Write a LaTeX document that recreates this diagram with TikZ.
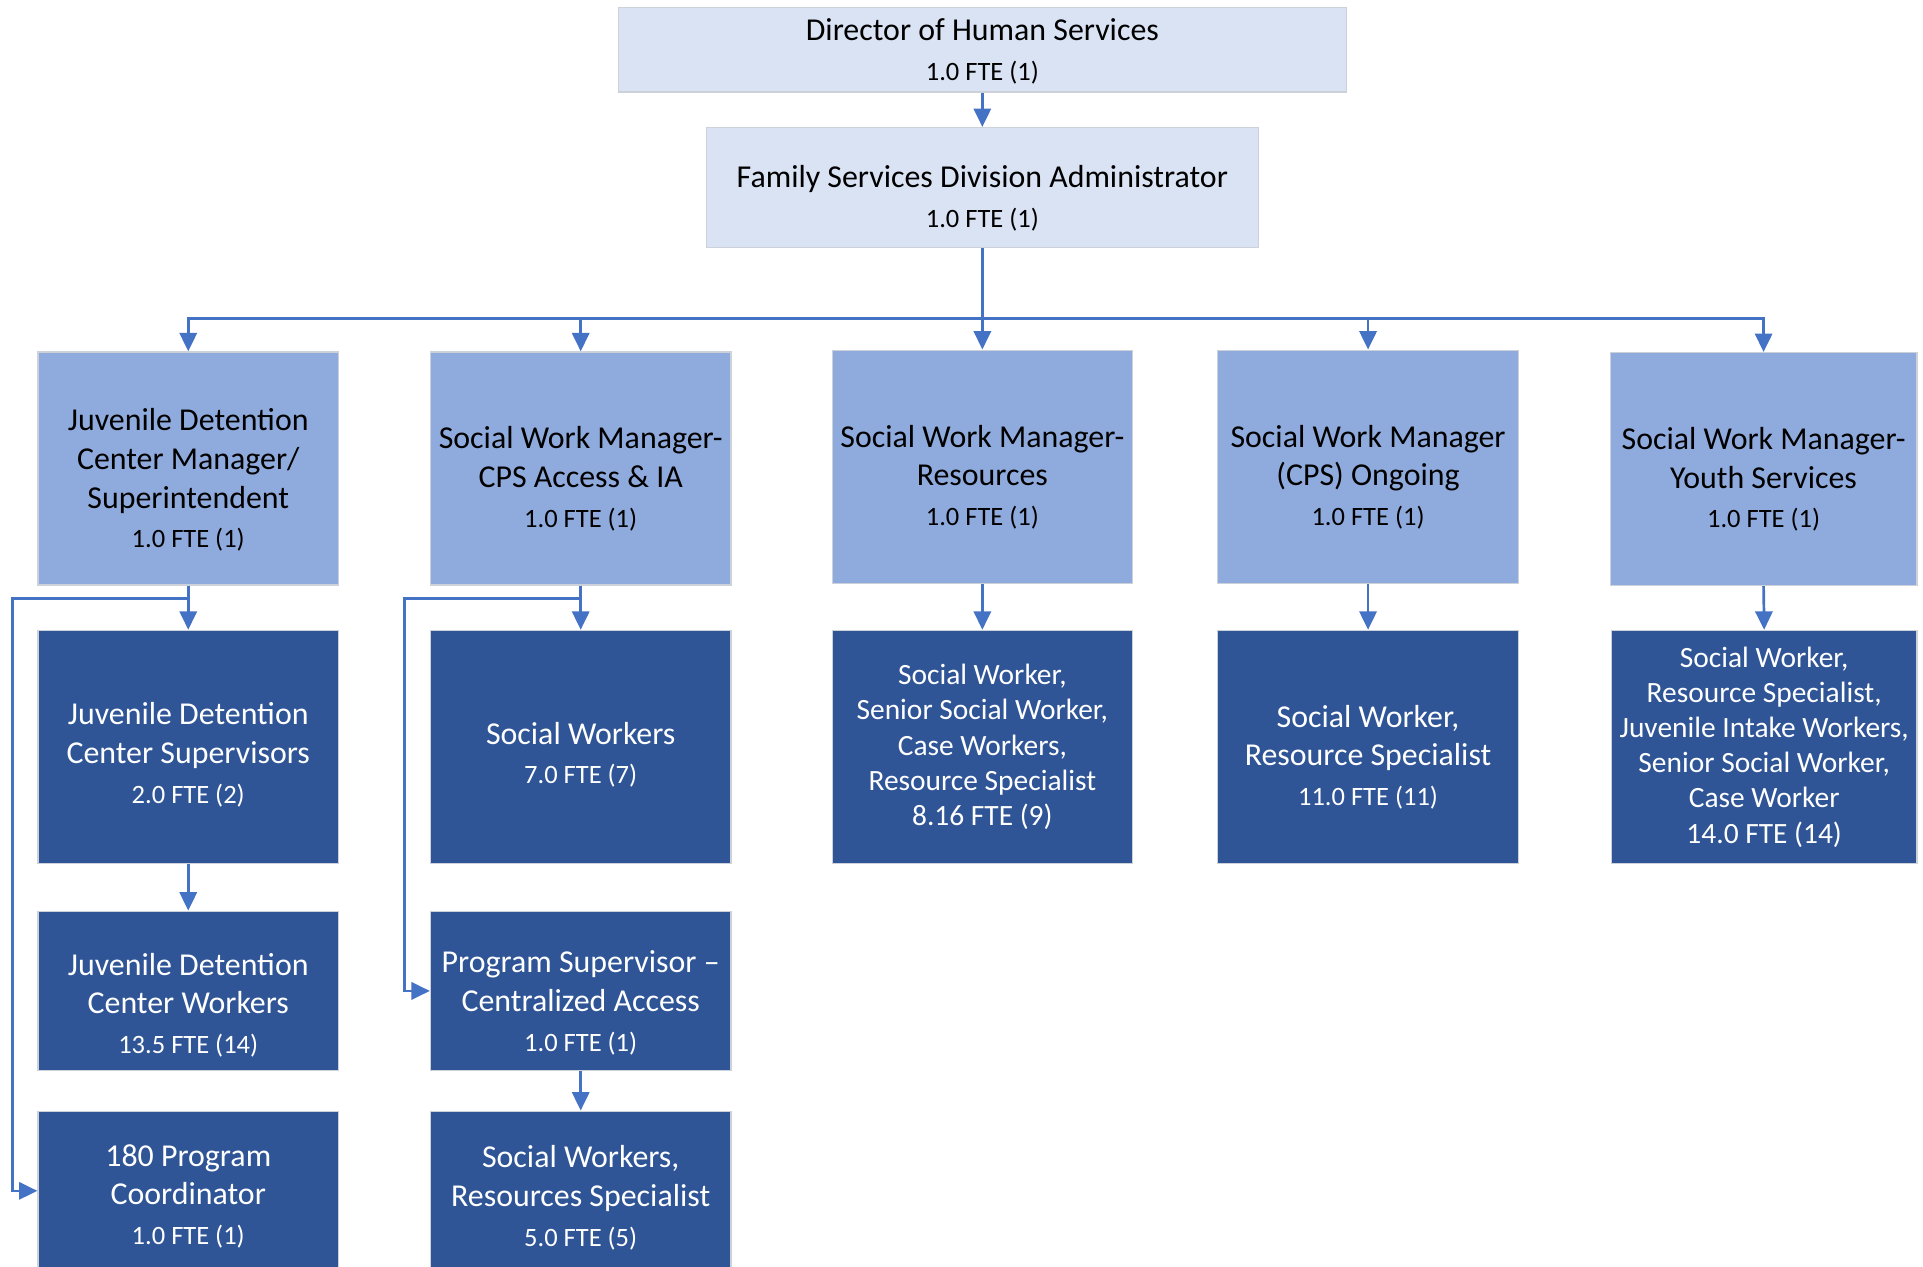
\documentclass[tikz,border=0pt]{standalone}
\usepackage{fontspec}
\setmainfont{Carlito}
\usetikzlibrary{arrows.meta}

\definecolor{linkblue}{HTML}{4472C4}
\definecolor{paleblue}{HTML}{DAE3F3}
\definecolor{midblue}{HTML}{8FAADC}
\definecolor{navy}{HTML}{2F5597}
\definecolor{edgegray}{HTML}{CDD2DA}

% smaller line for the head-count figures
\newcommand{\fte}[1]{{\fontsize{21.6}{26}\selectfont #1}}
% invisible strut that lowers a text block inside its box
\newcommand{\drop}[1]{\rule{0pt}{#1}}

\tikzset{
  unit/.style={draw=edgegray, line width=1pt, inner sep=0pt, align=center,
    font=\fontsize{26}{31.5}\selectfont},
  toplevel/.style={unit, fill=paleblue, text=black},
  manager/.style={unit, fill=midblue, text=black,
    minimum width=245pt, minimum height=190pt},
  staff/.style={unit, fill=navy, text=white, minimum width=245pt},
  dense/.style={font=\fontsize{24}{28.7}\selectfont},
  link/.style={draw=linkblue, line width=2.2pt,
    -{Triangle[length=15pt,width=14pt]}},
}

\begin{document}
\begin{tikzpicture}[x=1pt,y=-1pt]
\useasboundingbox (0,0) rectangle (1568,1033);

% top of the hierarchy
\node[toplevel, minimum width=594pt, minimum height=69pt] (dir) at (801,40.5)
  {\drop{21pt}Director of Human Services\\[1pt]\fte{1.0 FTE (1)}};
\node[toplevel, minimum width=450pt, minimum height=98pt] (fam) at (801,153)
  {\drop{35pt}Family Services Division Administrator\\[1pt]\fte{1.0 FTE (1)}};

% managers
\node[manager] (m1) at (153.5,382)
  {\drop{37pt}Juvenile Detention\\Center Manager/\\Superintendent\\[1pt]\fte{1.0 FTE (1)}};
\node[manager] (m2) at (473.5,382)
  {\drop{35pt}Social Work Manager-\\CPS Access \& IA\\[1pt]\fte{1.0 FTE (1)}};
\node[manager] (m3) at (801,380.5)
  {\drop{35pt}Social Work Manager-\\Resources\\[1pt]\fte{1.0 FTE (1)}};
\node[manager] (m4) at (1115.5,380.5)
  {\drop{35pt}Social Work Manager\\(CPS) Ongoing\\[1pt]\fte{1.0 FTE (1)}};
\node[manager, minimum width=250pt] (m5) at (1438,382.5)
  {\drop{35pt}Social Work Manager-\\Youth Services\\[1pt]\fte{1.0 FTE (1)}};

% first row of staff
\node[staff, minimum height=190pt] (s1) at (153.5,609)
  {\drop{31pt}Juvenile Detention\\Center Supervisors\\[1pt]\fte{2.0 FTE (2)}};
\node[staff, minimum height=190pt] (s2) at (473.5,609)
  {\drop{31pt}Social Workers\\[1pt]\fte{7.0 FTE (7)}};
\node[staff, dense, minimum height=190pt] (s3) at (801,609)
  {Social Worker,\\Senior Social Worker,\\Case Workers,\\Resource Specialist\\8.16 FTE (9)};
\node[staff, minimum height=190pt] (s4) at (1115.5,609)
  {\drop{35pt}Social Worker,\\Resource Specialist\\[1pt]\fte{11.0 FTE (11)}};
\node[staff, dense, minimum width=249pt, minimum height=190pt] (s5) at (1438.5,609)
  {Social Worker,\\Resource Specialist,\\Juvenile Intake Workers,\\Senior Social Worker,\\Case Worker\\14.0 FTE (14)};

% second row of staff
\node[staff, minimum height=130pt] (w1) at (153.5,808)
  {\drop{41pt}Juvenile Detention\\Center Workers\\[1pt]\fte{13.5 FTE (14)}};
\node[staff, minimum height=130pt] (p2) at (473.5,808)
  {\drop{37pt}Program Supervisor --\\Centralized Access\\[1pt]\fte{1.0 FTE (1)}};

% third row of staff
\node[staff, minimum height=130pt] (c1) at (153.5,971)
  {\drop{27pt}180 Program\\Coordinator\\[1pt]\fte{1.0 FTE (1)}};
\node[staff, minimum height=130pt] (r2) at (473.5,971)
  {\drop{29pt}Social Workers,\\Resources Specialist\\[1pt]\fte{5.0 FTE (5)}};

% reporting lines
\draw[link] (dir.south) -- (fam.north);
\draw[link] (fam.south) -- ++(0,57) -| (m1.north);
\draw[link] (fam.south) -- ++(0,57) -| (m2.north);
\draw[link] (fam.south) -- (m3.north);
\draw[link] (fam.south) -- ++(0,57) -| (m4.north);
\draw[link] (fam.south) -- ++(0,57) -| (m5.north);

\draw[link] (m1.south) -- (s1.north);
\draw[link] (m2.south) -- (s2.north);
\draw[link] (m3.south) -- (s3.north);
\draw[link] (m4.south) -- (s4.north);
\draw[link] (m5.south) -- (s5.north);

\draw[link] (s1.south) -- (w1.north);
\draw[link] (p2.south) -- (r2.north);

% side branches to the lower units
\coordinate (j1) at (10,488);
\coordinate (j2) at (330,488);
\draw[link] (m1.south) |- (j1) |- (c1.west);
\draw[link] (m2.south) |- (j2) |- (p2.west);
\end{tikzpicture}
\end{document}
